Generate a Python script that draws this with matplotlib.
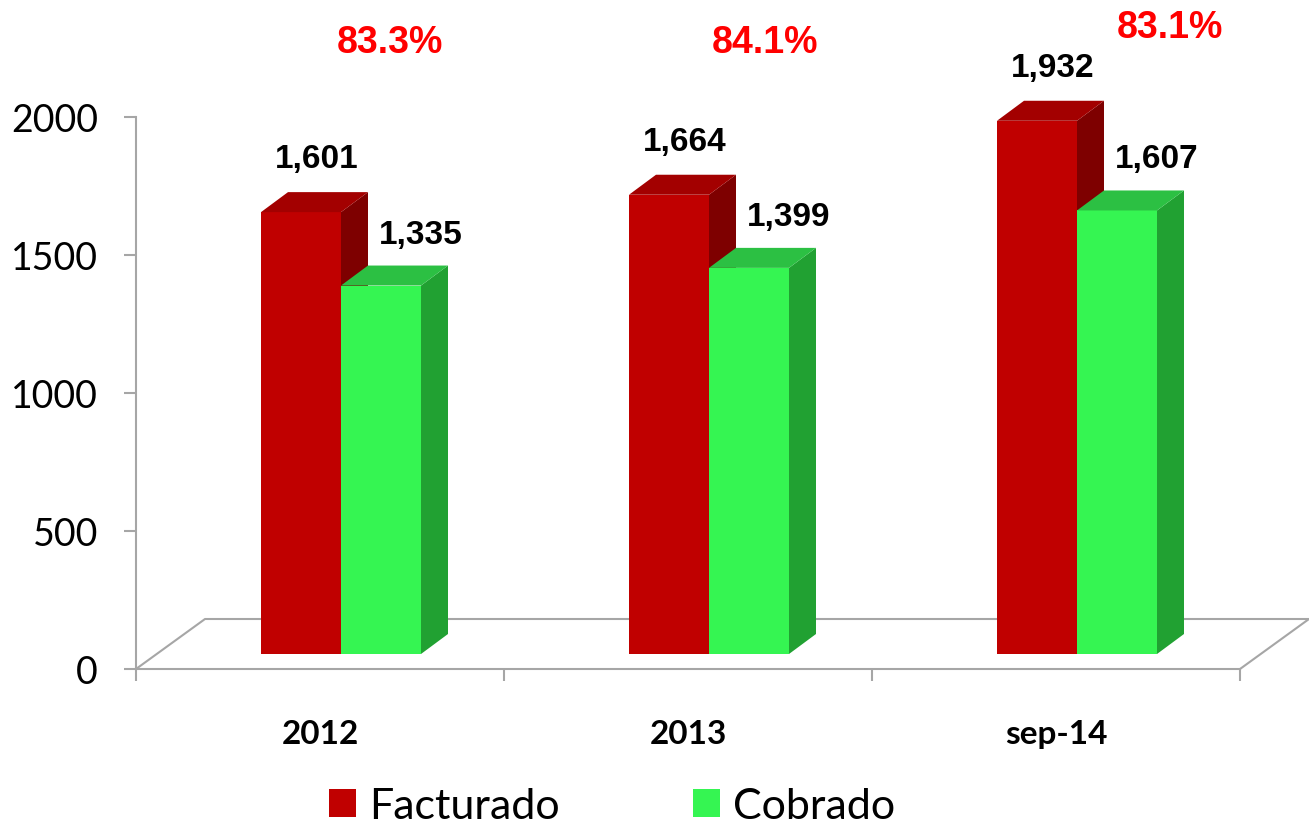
import matplotlib.pyplot as plt
from matplotlib.patches import Polygon, Patch

categories = ['2012', '2013', 'sep-14']
facturado = [1601, 1664, 1932]
cobrado = [1335, 1399, 1607]
pct_labels = ['83.3%', '84.1%', '83.1%']

# colours (front, side, top)
red = ('#C00000', '#7E0000', '#A30000')
green = ('#35F552', '#21A132', '#2CC043')

fig = plt.figure(figsize=(13.09, 8.29), dpi=100)
# axes: x from -0.5..2.5 spans 136..1240 px, y=0 at 670 px from top
ax = fig.add_axes([136 / 1309, 159 / 829, 1104 / 1309, 670 / 829])
upp = 500 / 138.0          # value units per pixel (vertical)
cpp = 1.0 / 368.0          # category units per pixel (horizontal)
ax.set_xlim(-0.5, 2.5)
ax.set_ylim(0, 670 * upp)

# faux 3D floor
grey = '#A6A6A6'
fdx, fdy = 69 * cpp, 50 * upp
ax.plot([-0.5, -0.5 + fdx, 2.5 + fdx, 2.5], [0, fdy, fdy, 0], color=grey, lw=1.5, clip_on=False, zorder=1)

# bars
bw = 80 * cpp
sx, sy = 21 * cpp, 15 * upp       # front face shift into the floor
ddx, ddy = 27 * cpp, 20 * upp     # bar depth


def bar3d(x0, h, cols):
    base = sy
    top = base + h
    ax.add_patch(Polygon([(x0, base), (x0 + bw, base), (x0 + bw, top), (x0, top)],
                         closed=True, fc=cols[0], ec='none', zorder=3))
    ax.add_patch(Polygon([(x0 + bw, base), (x0 + bw + ddx, base + ddy), (x0 + bw + ddx, top + ddy), (x0 + bw, top)],
                         closed=True, fc=cols[1], ec='none', zorder=3))
    ax.add_patch(Polygon([(x0, top), (x0 + bw, top), (x0 + bw + ddx, top + ddy), (x0 + ddx, top + ddy)],
                         closed=True, fc=cols[2], ec='none', zorder=3))
    return top + ddy


for i in range(len(categories)):
    xf = i + sx - bw
    xc = i + sx
    tf = bar3d(xf, facturado[i], red)
    tc = bar3d(xc, cobrado[i], green)
    ax.text(xf + bw / 2 + ddx / 2 + 2 * cpp, tf + 18 * upp, f'{facturado[i]:,}',
            ha='center', va='bottom', fontsize=24, fontweight='bold', family='Liberation Sans')
    ax.text(xc + bw / 2 + ddx / 2 + 26 * cpp, tc + 16 * upp, f'{cobrado[i]:,}',
            ha='center', va='bottom', fontsize=24, fontweight='bold', family='Liberation Sans')

pct_pos = [(0.19, 2272), (1.21, 2272), (2.31, 2326)]
for (px, py), lab in zip(pct_pos, pct_labels):
    ax.text(px, py, lab, ha='center', va='center', color='#FF0000', fontsize=27,
            fontweight='bold', family='Liberation Sans')

# axes styling
for s in ['top', 'right']:
    ax.spines[s].set_visible(False)
ax.spines['left'].set_bounds(0, 2000)
ax.spines['left'].set_color(grey)
ax.spines['bottom'].set_color(grey)
ax.spines['left'].set_linewidth(1.5)
ax.spines['bottom'].set_linewidth(1.5)
ax.set_yticks([0, 500, 1000, 1500, 2000])
ax.set_yticklabels(['0', '500', '1000', '1500', '2000'], fontsize=27, family='Lato')
ax.tick_params(axis='y', length=8.5, width=1.5, color=grey, pad=19)
ax.set_xticks([-0.5, 0.5, 1.5, 2.5])
ax.set_xticklabels([])
ax.tick_params(axis='x', which='major', length=8.5, width=1.5, color=grey)
ax.set_xticks([0, 1, 2], minor=True)
ax.set_xticklabels(categories, minor=True, fontsize=24, fontweight='bold', family='Lato')
ax.tick_params(axis='x', which='minor', length=0, pad=36)
ax.patch.set_visible(False)

handles = [Patch(fc=red[0]), Patch(fc=green[0])]
fig.legend(handles, ['Facturado', 'Cobrado'], loc='center', bbox_to_anchor=(612 / 1309, 22 / 829),
           ncol=2, frameon=False, prop={'family': 'Lato', 'size': 31}, handlelength=0.62, handleheight=0.62,
           columnspacing=3.1, handletextpad=0.3)

fig.savefig('out.png', dpi=100)
